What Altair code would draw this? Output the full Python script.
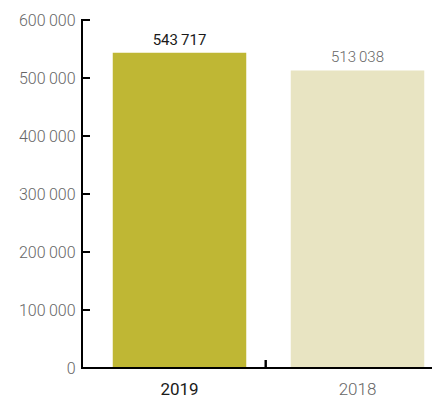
import altair as alt
import pandas as pd

years = ["2019", "2018"]
values = [543717, 513038]
bar_colors = ["#bfb734", "#e8e4c2"]
y_ticks = [0, 100000, 200000, 300000, 400000, 500000, 600000]

df = pd.DataFrame({"year": years, "value": values})
ticks_df = pd.DataFrame({"t": y_ticks})

W, H = 350, 348
FONT = "Roboto"
fmt = "replace(format(datum.value, ','), regexp(',', 'g'), '\u2009')"

xscale = alt.Scale(domain=years, range=[8.5, 364.5], paddingInner=0.25, paddingOuter=0.125)
yscale = alt.Scale(domain=[0, 600000], nice=False)

base = alt.Chart(df)

bars = base.mark_bar().encode(
    x=alt.X("year:N", scale=xscale, sort=years, title=None,
            axis=alt.Axis(domain=False, ticks=False, labelAngle=0, labelFont=FONT,
                          labelFontSize=17, labelPadding=13,
                          labelColor=alt.expr("datum.value == '2019' ? '#1a1a1a' : '#666666'"),
                          labelFontWeight=alt.expr("datum.value == '2019' ? 400 : 300"))),
    y=alt.Y("value:Q", scale=yscale, title=None,
            axis=alt.Axis(values=y_ticks, grid=False, domain=False, ticks=False, labelFont=FONT,
                          labelFontSize=16, labelColor="#666666", labelFontWeight=300,
                          labelPadding=7, labelExpr=fmt)),
    color=alt.Color("year:N", scale=alt.Scale(domain=years, range=bar_colors), legend=None),
)

lab19 = base.transform_filter("datum.year == '2019'").transform_calculate(
    lab=fmt
).mark_text(baseline="bottom", dy=-5, font=FONT, fontSize=15, fontWeight=400, color="#1a1a1a").encode(
    x=alt.X("year:N", scale=xscale, sort=years), y=alt.Y("value:Q", scale=yscale), text="lab:N")
lab18 = base.transform_filter("datum.year == '2018'").transform_calculate(
    lab=fmt
).mark_text(baseline="bottom", dy=-5, font=FONT, fontSize=15, fontWeight=300, color="#666666").encode(
    x=alt.X("year:N", scale=xscale, sort=years), y=alt.Y("value:Q", scale=yscale), text="lab:N")

yticks = alt.Chart(ticks_df).mark_rule(color="black", strokeWidth=2).encode(
    x=alt.value(0), x2=alt.value(8), y=alt.Y("t:Q", scale=yscale))

yline = alt.Chart(df).mark_rule(color="black", strokeWidth=2).encode(
    x=alt.value(0), y=alt.value(-1), y2=alt.value(H))
xline = alt.Chart(df).mark_rule(color="black", strokeWidth=2).encode(
    x=alt.value(-1), x2=alt.value(W), y=alt.value(H))
midtick = alt.Chart(df).mark_rule(color="black", strokeWidth=2).encode(
    x=alt.value(183.7), y=alt.value(H - 8), y2=alt.value(H))

chart = alt.layer(bars, lab19, lab18, yticks, yline, xline, midtick).properties(
    width=W, height=H,
    autosize=alt.AutoSizeParams(type="none"),
    padding={"left": 74, "top": 12, "right": 0, "bottom": 29},
).configure_view(stroke=None)

chart.save("out.html", embed_options={"renderer": "svg", "actions": False})
